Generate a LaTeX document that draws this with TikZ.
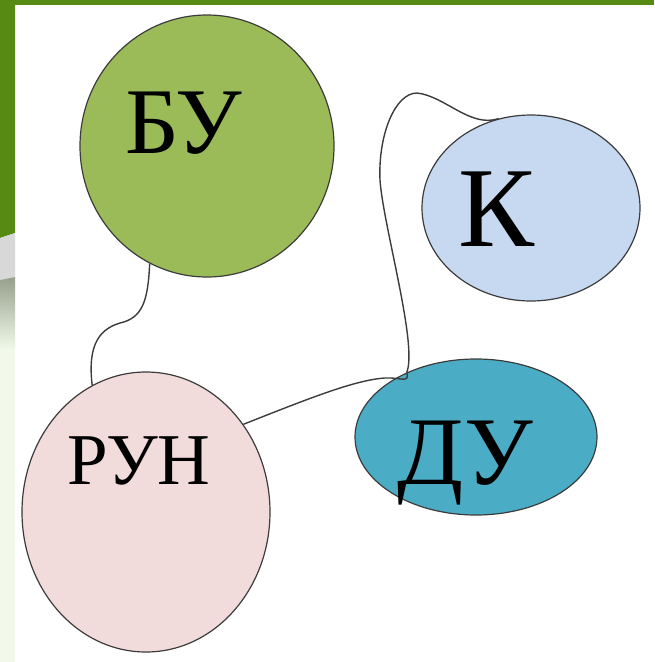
\documentclass[tikz,border=0pt]{standalone}
\usepackage{fontspec}
\setmainfont{Liberation Serif}
\usetikzlibrary{shapes.geometric}
\definecolor{slidegreen}{RGB}{86,138,18}
\definecolor{bugreen}{RGB}{155,187,89}
\definecolor{kblue}{RGB}{198,217,241}
\definecolor{runpink}{RGB}{242,220,219}
\definecolor{duteal}{RGB}{75,172,198}
\definecolor{stripgrey}{RGB}{216,216,216}
\definecolor{stripfade}{RGB}{150,160,140}
\definecolor{strippale}{RGB}{242,249,234}
\definecolor{outline}{RGB}{60,60,60}

\begin{document}
\begin{tikzpicture}[x=1pt, y=-1pt,
    blob/.style={ellipse, draw=outline, line width=1.2pt, inner sep=0pt},
    lbl/.style={font=\fontsize{#1}{#1}\selectfont, inner sep=0pt, anchor=base west},
    link/.style={draw=outline, line width=1.4pt}
]
\useasboundingbox (0,0) rectangle (654,662);
% slide background
\fill[white] (0,0) rectangle (654,662);
\fill[slidegreen] (0,0) rectangle (654,5);
\fill[slidegreen] (0,0) -- (15,0) -- (15,233) -- (0,238) -- cycle;
\fill[stripgrey] (0,238) -- (15,233) -- (15,277) -- (0,280) -- cycle;
\shade[top color=stripfade, bottom color=strippale] (0,280) -- (15,277) -- (15,350) -- (0,350) -- cycle;
\fill[strippale] (0,350) rectangle (15,662);

% ellipses
\node[blob, fill=bugreen, minimum width=254pt, minimum height=262pt] (bu) at (207,146) {};
\node[blob, fill=kblue, minimum width=218pt, minimum height=186pt] (k) at (531,208) {};
\node[blob, fill=runpink, minimum width=248pt, minimum height=280pt] (run) at (146,512) {};
\node[blob, fill=duteal, minimum width=242pt, minimum height=156pt] (du) at (476,437) {};

% labels
\node[lbl=94] (bu-text) at (125,153) {БУ};
\node[lbl=114] (k-text) at (458,246) {К};
\node[lbl=73] (run-text) at (67,484) {РУН};
\node[lbl=97] (du-text) at (397,484) {ДУ};

% connectors
\draw[link] (bu.244) .. controls (148,302) and (142,318) .. (120,323)
                     .. controls (96,330) and (88,350) .. (run.113);
\draw[link] (run.42) .. controls (310,398) and (355,380) .. (385,378)
                     .. controls (400,377) and (410,384) .. (du.137);
\draw[link] (du.137) .. controls (418,345) and (383,225) .. (380,180)
                     .. controls (378,135) and (395,93) .. (417,93)
                     .. controls (445,96) and (470,128) .. (k.110);
\end{tikzpicture}
\end{document}
